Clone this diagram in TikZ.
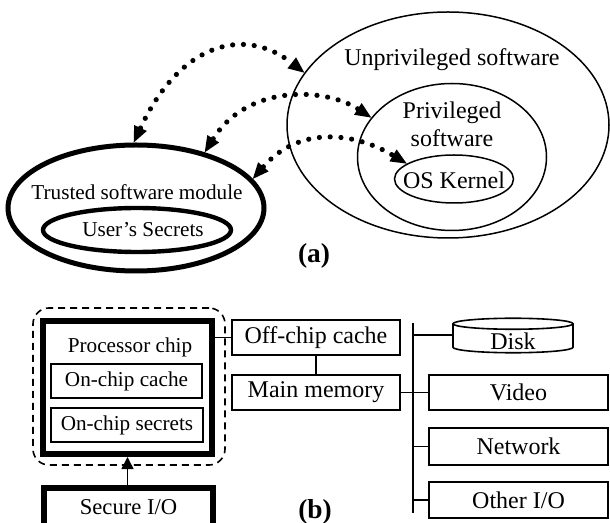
\documentclass[tikz,border=0pt]{standalone}
\usepackage{fontspec}
\setmainfont{Liberation Serif}
\usetikzlibrary{arrows.meta,shapes.geometric}

\begin{document}
\begin{tikzpicture}[x=0.5pt, y=0.5pt,
    big/.style={font=\fontsize{12}{14}\selectfont},
    small/.style={font=\fontsize{10.6}{12.5}\selectfont},
    ring/.style={draw, ellipse, inner sep=0pt, line width=0.75pt},
    thickring/.style={ring, line width=2.5pt},
    box/.style={draw, rectangle, inner sep=0pt, line width=0.8pt},
    chipbox/.style={box, line width=3pt},
    wire/.style={line width=0.8pt},
    dotarrow/.style={line width=2.6pt, line cap=round, dash pattern=on 0pt off 5.4pt,
      {Triangle[length=8pt,width=7pt,line width=0pt]}-{Triangle[length=8pt,width=7pt,line width=0pt]}}]
  \useasboundingbox (0,0) rectangle (610,-523);
  \clip (0,0) rectangle (610,-523);

  % (a) software
  \node[ring, minimum width=161pt, minimum height=113pt] (unpriv) at (448,-125) {};
  \node[ring, minimum width=94.5pt, minimum height=73.5pt] (priv) at (452,-157) {};
  \node[ring, minimum width=59.5pt, minimum height=24pt] (kernel) at (454,-179) {};
  \node[thickring, minimum width=128pt, minimum height=63pt] (trusted) at (136,-208) {};
  \node[thickring, line width=2.2pt, minimum width=94pt, minimum height=22pt] (usersec) at (137,-230) {};
  \node[big] (unprivtext) at (452,-60) {Unprivileged software};
  \node[big, align=center] (privtext) at (452,-124) {Privileged\\software};
  \node[big] (kerneltext) at (454,-180) {OS Kernel};
  \node[small] (trustedtext) at (137,-192) {Trusted software module};
  \node[small] (usersectext) at (143,-230) {User's Secrets};
  \node[font=\fontsize{13.7}{16}\selectfont\bfseries] (alabel) at (314,-256) {(a)};

  \draw[dotarrow] (trusted.92) to[out=65, in=142, out distance=55pt, in distance=38pt] (unpriv.160);
  \draw[dotarrow] (trusted.39) to[out=58, in=147, out distance=40pt, in distance=28pt] (priv.154);
  \draw[dotarrow] (trusted.14) to[out=49, in=149, out distance=35pt, in distance=31pt] (kernel.162);

  % (b) hardware
  \node[box, rounded corners=8pt, dash pattern=on 3.5pt off 2.5pt, minimum width=96pt, minimum height=78.5pt] (trustzone) at (129,-386.5) {};
  \node[chipbox, minimum width=84.5pt, minimum height=66.5pt] (proc) at (127.5,-387.5) {};
  \node[small] (proctext) at (130,-347) {Processor chip};
  \node[box, small, minimum width=75.5pt, minimum height=17pt] (oncache) at (126.5,-381) {On-chip cache};
  \node[box, small, minimum width=76pt, minimum height=17pt] (onsecret) at (127,-425) {On-chip secrets};
  \node[chipbox, font=\fontsize{11.3}{13}\selectfont, minimum width=84.5pt, minimum height=19.5pt] (secureio) at (128.5,-507.5) {Secure I/O};
  \draw[wire, -{Triangle[length=6pt,width=6pt]}] (secureio.north -| proc.south) -- (proc.south);

  \node[box, big, minimum width=84pt, minimum height=17.5pt] (offcache) at (316,-337.5) {Off-chip cache};
  \node[box, big, minimum width=84pt, minimum height=17.5pt] (mainmem) at (316,-392.5) {Main memory};
  \draw[wire] (offcache.west -| proc.east) -- (offcache.west);
  \draw[wire] (offcache.south) -- (mainmem.north);

  \coordinate (bustop) at (413,-323);
  \coordinate (busbot) at (413,-513);
  \draw[wire] (bustop) -- (busbot);

  \node[big, inner sep=0pt, outer sep=0pt, minimum width=60pt, minimum height=10.75pt] (disk) at (513,-341) {Disk};
  \draw[wire] ([yshift=3.25pt]disk.north) ellipse [x radius=30pt, y radius=2.75pt];
  \draw[wire] ([yshift=3.25pt]disk.north west) -- ([yshift=2.25pt]disk.south west)
    arc[start angle=180, end angle=360, x radius=30pt, y radius=2.75pt] -- ([yshift=3.25pt]disk.north east);
  \coordinate (diskport) at ([yshift=3pt]disk.west);

  \node[box, big, minimum width=89.5pt, minimum height=17.5pt] (video) at (518.5,-392.5) {Video};
  \node[box, big, minimum width=89.5pt, minimum height=18.5pt] (network) at (518.5,-446.5) {Network};
  \node[box, big, minimum width=89.5pt, minimum height=18pt] (otherio) at (518.5,-500) {Other I/O};

  \draw[wire] (bustop |- diskport) -- (diskport);
  \draw[wire] (mainmem.east) -- (video.west);
  \draw[wire] (bustop |- network.west) -- (network.west);
  \draw[wire] (bustop |- otherio.west) -- (otherio.west);

  \node[font=\fontsize{13.7}{16}\selectfont\bfseries] (blabel) at (315,-512) {(b)};
\end{tikzpicture}
\end{document}
